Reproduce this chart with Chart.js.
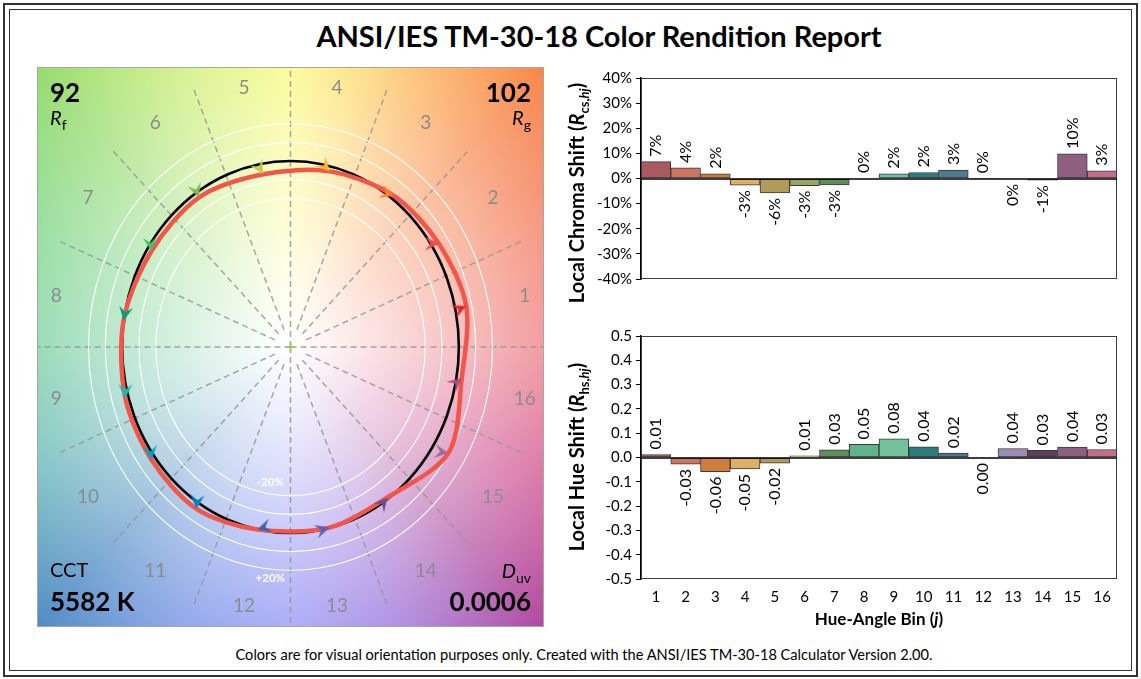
<!DOCTYPE html>
<html>
<head>
<meta charset="utf-8">
<script src="https://cdn.jsdelivr.net/npm/chart.js@4.4.1/dist/chart.umd.min.js"></script>
<style>
html,body{margin:0;padding:0;background:#fff}
body{position:relative;width:1141px;height:679px;overflow:hidden;font-family:Lato,'Open Sans',sans-serif;color:#000}
.abs{position:absolute;white-space:nowrap}
#fo{left:3px;top:3px;width:1135px;height:674px;border:2px solid #333;box-sizing:border-box}
#fi{left:9px;top:9px;width:1123px;height:662px;border:1px solid #333;box-sizing:border-box}
#title{left:199px;width:800px;top:21px;text-align:center;font-weight:700;font-size:29px;line-height:29px}
#foot{left:184px;width:800px;top:646px;text-align:center;font-size:14.6px;line-height:18px}
#panel{left:37px;top:67px;width:507px;height:560px;border:1px solid #a6a6a6;box-sizing:border-box}
#panel canvas{display:block}
.big{font-weight:700;font-size:26px;line-height:26px}
.med{font-size:20px;line-height:20px}
.sb{font-size:14px;position:relative;top:5px;font-style:normal}
.vt{transform:translate(-50%,-50%) rotate(-90deg);font-weight:700;font-size:20px;line-height:22px}
.vt sub{font-size:13px}
</style>
</head>
<body>
<div id="fo" class="abs"></div>
<div id="fi" class="abs"></div>
<div id="title" class="abs">ANSI/IES TM-30-18 Color Rendition Report</div>
<div id="panel" class="abs"><canvas id="vg" width="505" height="558"></canvas></div>
<div class="abs big" style="left:50px;top:79px" id="rfVal"></div>
<div class="abs med" style="left:50px;top:107px"><i>R</i><span class="sb">f</span></div>
<div class="abs big" style="right:610px;top:79px" id="rgVal"></div>
<div class="abs med" style="right:610px;top:107px"><i>R</i><span class="sb">g</span></div>
<div class="abs med" style="left:50px;top:559px">CCT</div>
<div class="abs big" style="left:50px;top:588px" id="cctVal"></div>
<div class="abs med" style="right:610px;top:560px"><i>D</i><span class="sb">uv</span></div>
<div class="abs big" style="right:610px;top:588px" id="duvVal"></div>
<canvas id="c1" class="abs" style="left:560px;top:60px" width="575" height="262"></canvas>
<canvas id="c2" class="abs" style="left:560px;top:320px" width="575" height="300"></canvas>
<div class="abs vt" style="left:580px;top:193px">Local Chroma Shift (<i>R</i><sub>cs,<i>hj</i></sub>)</div>
<div class="abs vt" style="left:580px;top:457px">Local Hue Shift (<i>R</i><sub>hs,<i>hj</i></sub>)</div>
<div class="abs" style="left:579px;width:600px;top:609px;text-align:center;font-weight:700;font-size:17px;line-height:20px">Hue-Angle Bin (<i>j</i>)</div>
<div id="foot" class="abs">Colors are for visual orientation purposes only. Created with the ANSI/IES TM-30-18 Calculator Version 2.00.</div>
<script>
// ---------------- data ----------------
const bins = ['1','2','3','4','5','6','7','8','9','10','11','12','13','14','15','16'];
const chromaShift = [0.067,0.042,0.019,-0.027,-0.057,-0.029,-0.026,0.002,0.019,0.024,0.034,0.001,-0.002,-0.007,0.098,0.031];
const hueShift = [0.012,-0.027,-0.058,-0.047,-0.023,0.007,0.032,0.054,0.077,0.044,0.018,-0.002,0.037,0.029,0.043,0.033];
const binCenterDeg = [11.25,33.75,56.25,78.75,101.25,123.75,146.25,168.75,191.25,213.75,236.25,258.75,281.25,303.75,326.25,348.75];
const fidelityIndex = 92;
const gamutIndex = 102;
const cctKelvin = 5582;
const duvValue = 0.0006;
const gridRadii = [0.8, 0.9, 1.1, 1.2];

// ---------------- styles ----------------
const arrowColors = ['#e62828','#e74b4b','#fb812e','#ffb529','#cbca46','#7eb94c','#41c06d','#009c7c','#16bcb0','#00a4bf','#0085c3','#3b62aa','#5a5eb0','#6a4e85','#9d69a1','#a74f81'];
const barColors = ['#a85a5e','#cd7560','#cf7d3d','#ddb066','#b09a5a','#95a562','#5e8e5c','#5fb48b','#74c19e','#2b7d7d','#4d7a90','#4a6a9a','#9d8db3','#5d3e5d','#8f5f7f','#c46e8c'];
const bgStops = [[0,[236,112,120]],[30,[244,122,80]],[45,[247,135,74]],[60,[252,170,80]],[75,[252,215,95]],[90,[250,250,110]],[112,[205,238,110]],[135,[150,220,110]],[157,[120,212,130]],[180,[108,204,152]],[202,[95,180,180]],[225,[79,140,196]],[248,[110,140,230]],[270,[136,136,244]],[292,[150,110,220]],[315,[176,74,160]],[337,[210,80,140]],[360,[236,112,120]]];
const FONT = 'Lato, "Open Sans", sans-serif';
const RED = '#f2564a';

document.getElementById('rfVal').textContent = String(fidelityIndex);
document.getElementById('rgVal').textContent = String(gamutIndex);
document.getElementById('cctVal').textContent = cctKelvin + ' K';
document.getElementById('duvVal').textContent = duvValue.toFixed(4);

// ---------------- vector graphic ----------------
const rad = d => d*Math.PI/180;
const refPts = binCenterDeg.map(d => ({x:Math.cos(rad(d)), y:Math.sin(rad(d))}));
const testPts = binCenterDeg.map((d,i) => {
  const r = 1 + chromaShift[i], a = rad(d) + hueShift[i];
  return {x:r*Math.cos(a), y:r*Math.sin(a)};
});
const n = testPts.length;
// wrap one point on each side so the smoothed closed curve is continuous; wrap segments are hidden
const testLoop = [testPts[n-1]].concat(testPts, [testPts[0], testPts[1]]);

function hueColor(deg){
  for(let k=0;k<bgStops.length-1;k++){
    const [a0,c0]=bgStops[k],[a1,c1]=bgStops[k+1];
    if(deg>=a0 && deg<=a1){
      const t=(deg-a0)/(a1-a0);
      return [c0[0]+(c1[0]-c0[0])*t, c0[1]+(c1[1]-c0[1])*t, c0[2]+(c1[2]-c0[2])*t];
    }
  }
  return bgStops[0][1];
}
function arrowCanvas(color){
  const L=14, W=7, S=2*L+2, m=S/2;
  const c=document.createElement('canvas'); c.width=S; c.height=S;
  const g=c.getContext('2d'); g.fillStyle=color; g.beginPath();
  g.moveTo(m,m); g.lineTo(m-L,m-W); g.lineTo(m-L*0.6,m); g.lineTo(m-L,m+W); g.closePath(); g.fill();
  return c;
}
const arrowImgs = arrowColors.map(arrowCanvas);
const SXpx = 505/3, SYpx = 558/3;
const arrowRot = testPts.map((p,i) => {
  const dx=(p.x-refPts[i].x)*SXpx, dy=-(p.y-refPts[i].y)*SYpx;
  return Math.atan2(dy,dx)*180/Math.PI;
});

const vgPlugin = {
  id:'vg',
  beforeDatasetsDraw(chart){
    const {ctx, chartArea:a, scales:{x,y}} = chart;
    if(!chart.$bg){
      const w=Math.round(a.width), h=Math.round(a.height);
      const c=document.createElement('canvas'); c.width=w; c.height=h;
      const g=c.getContext('2d'); const img=g.createImageData(w,h);
      for(let py=0;py<h;py++){
        const v=y.getValueForPixel(a.top+py+0.5);
        for(let px=0;px<w;px++){
          const u=x.getValueForPixel(a.left+px+0.5);
          const r=Math.sqrt(u*u+v*v);
          let d=Math.atan2(v,u)*180/Math.PI; if(d<0) d+=360;
          const col=hueColor(d);
          const t=Math.pow(Math.min(1,r/2.12),1.1);
          const o=(py*w+px)*4;
          img.data[o]=255+(col[0]-255)*t; img.data[o+1]=255+(col[1]-255)*t; img.data[o+2]=255+(col[2]-255)*t; img.data[o+3]=255;
        }
      }
      g.putImageData(img,0,0); chart.$bg=c;
    }
    ctx.save();
    ctx.drawImage(chart.$bg, a.left, a.top);
    const cx=x.getPixelForValue(0), cy=y.getPixelForValue(0);
    ctx.strokeStyle='rgba(150,150,150,0.85)'; ctx.lineWidth=1.5; ctx.setLineDash([6,4]);
    for(let k=0;k<16;k++){
      const d=rad(22.5*k);
      const r0 = (k%4===0) ? 0 : 0.1;
      ctx.beginPath();
      ctx.moveTo(x.getPixelForValue(r0*Math.cos(d)), y.getPixelForValue(r0*Math.sin(d)));
      ctx.lineTo(x.getPixelForValue(1.5*Math.cos(d)), y.getPixelForValue(1.5*Math.sin(d)));
      ctx.stroke();
    }
    ctx.setLineDash([]);
    ctx.strokeStyle='#ffffff'; ctx.lineWidth=1.1;
    gridRadii.forEach(r=>{
      ctx.beginPath(); ctx.ellipse(cx,cy,x.getPixelForValue(r)-cx, cy-y.getPixelForValue(r),0,0,Math.PI*2); ctx.stroke();
    });
    ctx.strokeStyle='#000'; ctx.lineWidth=2.6;
    ctx.beginPath(); ctx.ellipse(cx,cy,x.getPixelForValue(1)-cx, cy-y.getPixelForValue(1),0,0,Math.PI*2); ctx.stroke();
    ctx.restore();
  },
  afterDatasetsDraw(chart){
    const {ctx, scales:{x,y}} = chart;
    ctx.save();
    ctx.font='19px '+FONT; ctx.fillStyle='#8c8c8c'; ctx.textAlign='center'; ctx.textBaseline='middle';
    bins.forEach((b,i)=>{
      const d=rad(binCenterDeg[i]);
      const r=1.40+0.05*Math.abs(Math.sin(2*d));
      ctx.fillText(b, x.getPixelForValue(r*Math.cos(d)), y.getPixelForValue(r*Math.sin(d)));
    });
    ctx.font='bold 11.5px '+FONT; ctx.fillStyle='#ffffff';
    ctx.fillText('-20%', x.getPixelForValue(-0.12), y.getPixelForValue(-0.725));
    ctx.fillText('+20%', x.getPixelForValue(-0.12), y.getPixelForValue(-1.245));
    ctx.restore();
  }
};

new Chart(document.getElementById('vg'), {
  type:'scatter',
  data:{datasets:[
    {data:testLoop, showLine:true, borderColor:RED, borderWidth:4.5, pointRadius:0, tension:0.3, borderJoinStyle:'round', order:3,
     segment:{borderColor: c => (c.p0DataIndex===0 || c.p1DataIndex===testLoop.length-1) ? 'rgba(0,0,0,0)' : RED}},
    {data:testPts, pointStyle:arrowImgs, pointRotation:arrowRot, pointRadius:6, showLine:false, order:2},
    {data:[{x:0,y:0}], pointStyle:'cross', pointRadius:5, borderColor:'#9cc84e', borderWidth:1.5, showLine:false, order:1}
  ]},
  options:{
    responsive:false, animation:false, events:[], layout:{padding:0, autoPadding:false},
    scales:{x:{type:'linear',min:-1.5,max:1.5,display:false}, y:{type:'linear',min:-1.5,max:1.5,display:false}},
    plugins:{legend:{display:false}, tooltip:{enabled:false}}
  },
  plugins:[vgPlugin]
});

// ---------------- bar charts ----------------
const framePlugin = {
  id:'frame',
  afterDatasetsDraw(chart, args, opts){
    const {ctx, chartArea:a, scales:{y}} = chart;
    const meta = chart.getDatasetMeta(0), ds = chart.data.datasets[0];
    ctx.save();
    ctx.strokeStyle='#3c3c3c'; ctx.lineWidth=1;
    ctx.strokeRect(Math.round(a.left)+0.5, Math.round(a.top)+0.5, Math.round(a.width)-1, Math.round(a.height)-1);
    const y0=Math.round(y.getPixelForValue(0));
    ctx.strokeStyle='#000'; ctx.lineWidth=1.6;
    ctx.beginPath(); ctx.moveTo(a.left,y0); ctx.lineTo(a.right,y0); ctx.stroke();
    ctx.font='16px '+FONT; ctx.fillStyle='#000'; ctx.textBaseline='middle';
    meta.data.forEach((bar,i)=>{
      const v=ds.data[i];
      const p=bar.getProps(['x','y'],true);
      ctx.save();
      ctx.translate(p.x, v>=0 ? p.y-5 : p.y+5);
      ctx.rotate(-Math.PI/2);
      ctx.textAlign = v>=0 ? 'left' : 'right';
      ctx.fillText(opts.format(v),0,0);
      ctx.restore();
    });
    ctx.restore();
  }
};

function barChart(id, values, min, max, tickFmt, labelFmt, showX){
  return new Chart(document.getElementById(id), {
    type:'bar',
    data:{labels:bins, datasets:[{data:values, backgroundColor:barColors, borderColor:'#3a3a3a', borderWidth:1, borderSkipped:false, barPercentage:1, categoryPercentage:1}]},
    options:{
      responsive:false, animation:false, events:[],
      layout:{padding: showX ? {top:16,bottom:11,right:18,left:0} : {top:18,bottom:13,right:18,left:0}},
      scales:{
        x:{display:showX, grid:{display:false, drawTicks:false}, border:{display:false},
           ticks:{font:{family:FONT,size:15}, color:'#000', padding:9, maxRotation:0},
           afterFit(s){ s.height=30; }},
        y:{min:min, max:max, border:{display:true,color:'#000',width:1.5},
           grid:{drawOnChartArea:false, drawTicks:true, tickLength:5, color:'#000'},
           ticks:{stepSize:0.1, font:{family:FONT,size:15}, color:'#000', padding:4, callback:tickFmt},
           afterFit(s){ s.width=81; }}
      },
      plugins:{legend:{display:false}, tooltip:{enabled:false}, frame:{format:labelFmt}}
    },
    plugins:[framePlugin]
  });
}
barChart('c1', chromaShift, -0.4, 0.4,
  v => Math.round(v*100) + '%',
  v => Math.round(v*100) + '%', false);
barChart('c2', hueShift, -0.5, 0.5,
  v => (Math.round(v*10)/10).toFixed(1),
  v => (Math.round(v*100)/100).toFixed(2), true);
</script>
</body>
</html>
